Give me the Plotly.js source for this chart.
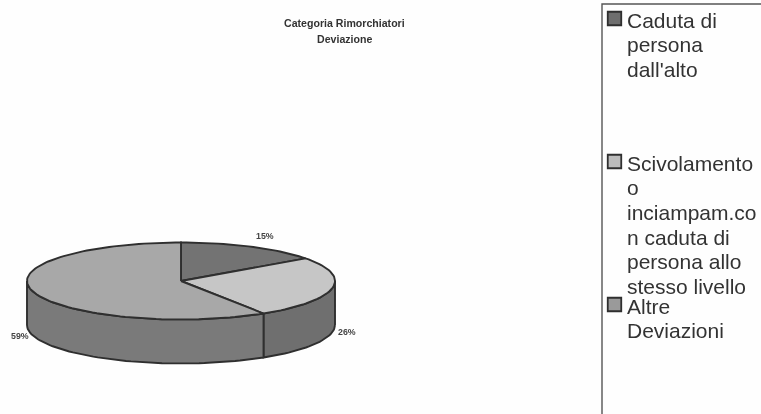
<!DOCTYPE html>
<html>
<head>
<meta charset="utf-8">
<script src="https://cdn.plot.ly/plotly-3.0.1.min.js"></script>
<style>
html,body{margin:0;padding:0;background:#fefefe;overflow:hidden}
#chart{width:761px;height:414px;filter:blur(0.6px)}
</style>
</head>
<body>
<div id="chart"></div>
<script>
// Data
const categories = ["Caduta di persona dall'alto", "Scivolamento o inciampam.con caduta di persona allo stesso livello", "Altre Deviazioni"];
const shares = [15, 26, 59];
const shareLabels = ["15%", "26%", "59%"];
const titleLines = ["Categoria Rimorchiatori", "Deviazione"];
const legendLines = [
  ["Caduta di", "persona", "dall'alto"],
  ["Scivolamento", "o", "inciampam.co", "n caduta di", "persona allo", "stesso livello"],
  ["Altre", "Deviazioni"]
];

// Styles and placement
const topColors = ["#737373", "#c6c6c6", "#a8a8a8"];
const wallColors = ["#6a6a6a", "#6f6f6f", "#7a7a7a"];
const swatchColors = ["#6e6e6e", "#bcbcbc", "#9a9a9a"];
const edge = "#2f2f2f";
const pie = {cx: 181, cy: 281, rx: 154, ry: 38.5, depth: 44};
const labelPos = [[264.5, 236], [347, 332], [20, 336]];
const legendX = 626, swatchX = 614.5;
const legendFirstLine = [20, 163, 306];
const legendStep = 24.7;

const rad = d => d * Math.PI / 180;
const px = t => pie.cx + pie.rx * Math.sin(rad(t));
const py = t => pie.cy - pie.ry * Math.cos(rad(t));
function arc(a, b) {
  const out = [];
  const n = Math.max(2, Math.ceil(Math.abs(b - a) / 2));
  for (let i = 0; i <= n; i++) out.push(a + (b - a) * i / n);
  return out;
}
const total = shares.reduce((a, b) => a + b, 0);
let acc = 0;
const spans = shares.map(v => { const s = acc; acc += v; return [s / total * 360, acc / total * 360]; });

const traces = [];
function poly(xs, ys, fill, name) {
  traces.push({type: "scatter", mode: "lines", x: xs, y: ys, fill: "toself", fillcolor: fill,
    line: {color: edge, width: 1.9}, hoverinfo: "skip", name: name, showlegend: false});
}
// Side wall: only the part of each slice facing the viewer (90..270 degrees)
spans.forEach((s, i) => {
  const a = Math.max(s[0], 90), b = Math.min(s[1], 270);
  if (b <= a) return;
  const ts = arc(a, b);
  const xs = ts.map(px).concat(ts.slice().reverse().map(px));
  const ys = ts.map(t => py(t) + pie.depth).concat(ts.slice().reverse().map(py));
  xs.push(xs[0]); ys.push(ys[0]);
  poly(xs, ys, wallColors[i], categories[i]);
});
// Top face slices
spans.forEach((s, i) => {
  const ts = arc(s[0], s[1]);
  const xs = [pie.cx].concat(ts.map(px), [pie.cx]);
  const ys = [pie.cy].concat(ts.map(py), [pie.cy]);
  poly(xs, ys, topColors[i], categories[i]);
});
// Legend swatches
traces.push({type: "scatter", mode: "markers",
  x: categories.map(() => swatchX),
  y: legendFirstLine.map(y => y - 1.5),
  marker: {symbol: "square", size: 13.5, color: swatchColors, line: {color: edge, width: 1.8}},
  hoverinfo: "skip", showlegend: false});

const annotations = [];
function txt(x, y, text, size, color, anchor, bold) {
  annotations.push({xref: "x", yref: "y", x: x, y: y, text: bold ? "<b>" + text + "</b>" : text,
    showarrow: false, xanchor: anchor, yanchor: "middle", borderpad: 0,
    font: {family: "Liberation Sans, Arial, sans-serif", size: size, color: color}});
}
titleLines.forEach((t, i) => txt(344.5, 22.5 + i * 16.5, t, 10.6, "#333", "center", true));
shareLabels.forEach((t, i) => txt(labelPos[i][0], labelPos[i][1], t, 8.8, "#444", "center", true));
legendLines.forEach((lines, i) => lines.forEach((l, j) =>
  txt(legendX, legendFirstLine[i] + j * legendStep, l, 21, "#333", "left", false)));

const layout = {
  width: 761, height: 414,
  margin: {l: 0, r: 0, t: 0, b: 0, pad: 0},
  paper_bgcolor: "#fefefe", plot_bgcolor: "#fefefe",
  showlegend: false,
  xaxis: {range: [0, 761], visible: false, fixedrange: true},
  yaxis: {range: [414, 0], visible: false, fixedrange: true},
  annotations: annotations,
  shapes: [{type: "path", xref: "x", yref: "y", path: "M 602 414 L 602 4 L 761 4",
    line: {color: "#555", width: 1.4}}]
};
Plotly.newPlot("chart", traces, layout, {displayModeBar: false, staticPlot: true});
</script>
</body>
</html>
